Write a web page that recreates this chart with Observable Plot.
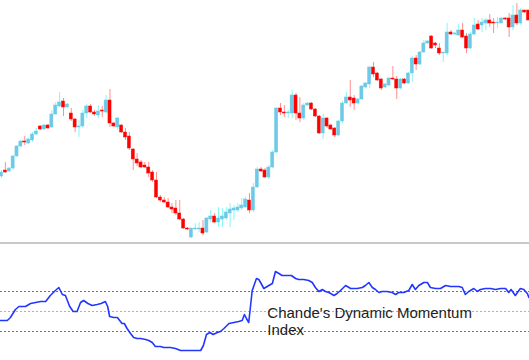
<!DOCTYPE html>
<html><head><meta charset="utf-8">
<script src="https://cdn.jsdelivr.net/npm/d3@7"></script>
<script src="https://cdn.jsdelivr.net/npm/@observablehq/plot@0.6"></script>
<style>
html,body{margin:0;padding:0;background:#fff;}
#chart{width:529px;height:360px;overflow:hidden;background:#fff;}
#sep{height:2px;background:#c8c8c8;}
#chart svg{display:block;}
</style></head><body><div id="chart"></div>
<script>
// Candle levels (chart units, larger = lower on screen)
const openLv = [176,170,171,168,156,146,141,143,140,134, 126,129,125,127,114,106,101,107,113,119, 127,126,113,106,112,115,110,112,100,123, 127,125,132,136,149,159,162,165,167,172, 180,197,200,202,207,208,213,219,228,237, 229,229,228,232,219,216,222,219,218,213, 210,210,208,207,200,210,187,169,170,177, 167,152,108,112,113,113,95,113,118,105, 103,109,116,133,118,125,128,135,121,103, 97,98,103,99,87,84,67,73,79,87, 85,78,79,88,79,83,73,58,64,52, 43,36,43,48,53,53,32,34,35,30, 36,48,34,24,25,23,20,22,23,23, 18,18,27,15,23,10,10];
const closeLv = [172,172,168,156,146,141,142,139,134,131, 129,125,128,114,105,102,107,104,119,127, 126,113,106,112,114,111,111,100,123,126, 118,132,137,148,159,163,167,167,173,180, 197,200,202,207,209,213,219,228,229,228, 228,228,233,218,216,222,218,216,212,209, 208,207,205,199,210,187,169,171,177,167, 152,108,112,113,112,95,113,118,105,103, 109,116,133,118,126,129,135,121,103,97, 100,103,99,86,83,67,74,80,88,84, 78,79,88,79,83,73,58,64,52,43, 41,48,45,53,52,32,34,33,30,37, 48,34,25,29,22,20,23,23,22,18, 19,27,15,23,10,12,20];
const highLv = [170,162,167,155,145,140,136,138,132,128, 125,124,124,110,102,92,98,103,108,118, 120,110,104,104,110,105,106,95,89,122, 117,124,128,132,148,153,160,162,162,170, 172,195,197,198,203,200,200,218,227,228, 223,222,220,217,210,213,207,208,207,203, 205,203,198,197,193,183,167,167,168,165, 150,107,103,105,110,90,93,97,103,102, 102,108,115,114,117,124,127,120,101,92, 80,95,98,85,82,66,62,72,78,83, 77,66,76,78,78,72,56,55,51,40, 40,35,42,43,52,23,30,32,24,23, 33,32,18,20,18,18,14,18,17,17, 17,13,5,3,8,10,10];
const lowLv = [178,173,172,170,157,147,145,144,142,135, 130,130,129,128,115,107,116,108,121,132, 137,128,118,113,116,118,117,113,127,127, 130,133,140,150,170,166,168,168,177,182, 198,202,203,208,213,215,220,229,230,238, 230,232,235,233,222,223,227,227,220,227, 220,212,210,208,213,212,188,172,178,179, 168,153,115,117,118,118,120,122,120,106, 110,117,134,139,128,130,137,136,123,104, 107,110,104,100,88,88,77,81,90,88, 86,80,99,89,84,84,82,70,65,53, 44,49,48,55,62,55,35,35,36,38, 53,49,35,30,32,30,27,33,28,23, 20,37,30,25,25,13,20];

// Chande's Dynamic Momentum Index (bar position, value)
const dmiBar = [-0.3,1.5,2.3,3.6,4.5,6.2,7.5,8.8,10.1,11.4, 12.6,13.9,14.8,15.7,16.5,17.6,18.5,19.5,20.4,21.2, 22.3,23.4,24.7,25.7,26.8,27.4,27.9,29.0,29.9,30.5, 31.1,31.7,32.4,33.3,34.1,35.0,35.9,37.2,38.0,38.9, 39.7,41.0,41.9,42.8,43.6,44.9,46.2,47.5,48.8,50.1, 51.4,52.1,52.9,53.8,54.6,55.7,56.5,57.4,58.7,60.0, 61.2,62.1,62.7,63.2,63.8,64.7,65.8,66.4,67.0,67.7, 69.0,69.9,70.7,71.6,72.4,73.7,74.8,75.9,76.7,78.0, 79.3,80.2,81.0,81.9,82.8,83.6,84.5,85.8,86.6,87.5, 88.8,90.1,91.8,93.1,93.9,94.8,95.7,96.5,97.4,98.2, 99.5,100.8,101.7,102.5,103.8,105.1,106.0,106.8,107.7,109.0, 109.9,110.7,112.0,113.3,114.6,115.9,117.2,118.0,118.9,119.7, 120.6,121.9,122.8,123.6,124.9,126.2,127.5,128.8,130.1,130.9, 131.5,132.6,133.9,134.8,135.7,136.1];
const dmiValue = [41,41,44,52,55,55,58,59,60,60, 66,71,74,67,66,55,50,50,59,61, 58,56,57,58,60,55,45,44,44,41, 38,38,33,28,24,23,23,22,21,19, 15,15,14,14,14,13,11,11,11,11, 11,16,27,29,27,29,30,33,38,39, 40,41,47,43,39,71,83,82,78,73, 76,78,90,88,86,86,86,83,82,82, 81,79,74,70,72,70,69,66,68,71, 76,73,73,74,76,79,74,72,69,70, 70,69,67,69,69,71,77,72,76,79, 79,74,73,73,76,75,75,75,74,67, 70,73,70,72,73,73,72,73,73,69, 72,66,73,72,68,64];

const levels = [30, 70];
const midLevel = [50];
const label = "Chande's Dynamic Momentum\nIndex";

const bars = openLv.map((o, i) => ({i, o, c: closeLv[i], h: highLv[i], l: lowLv[i], up: closeLv[i] < o}));
const dmi = dmiBar.map((b, k) => ({b, v: dmiValue[k]}));

const xDomain = [-0.258, 136.258];

const pricePlot = Plot.plot({
  width: 529, height: 242, margin: 0,
  x: {domain: xDomain, axis: null},
  y: {domain: [242, 0], axis: null},
  marks: [
    Plot.ruleX(bars, {x: "i", y1: "h", y2: "l", stroke: d => d.up ? "#86f6f6" : "#ff8f8f", strokeWidth: 1}),
    Plot.rect(bars, {x1: d => d.i - 0.4, x2: d => d.i + 0.4, y1: "o", y2: "c",
      fill: d => d.up ? "#72c6ea" : "#ff0000",
      stroke: d => d.up ? "#66d2e0" : "#ff1010", strokeWidth: 0.5})
  ]
});

const dmiPlot = Plot.plot({
  width: 529, height: 116, margin: 0,
  style: {fontFamily: "'Liberation Sans', Arial, sans-serif"},
  x: {domain: xDomain, axis: null},
  y: {domain: [1, 117], axis: null},
  marks: [
    Plot.ruleY(levels, {stroke: "#ff3c3c", strokeWidth: 1, strokeDasharray: "2,2"}),
    Plot.ruleY(midLevel, {stroke: "#b0b0b0", strokeWidth: 1, strokeDasharray: "2,2"}),
    Plot.line(dmi, {x: "b", y: "v", stroke: "#2236ff", strokeWidth: 1.6}),
    Plot.text([label], {x: 68.6, y: 55.5, text: d => d, textAnchor: "start", lineAnchor: "top",
      fontSize: 15, lineHeight: 1.15, fill: "#222"})
  ]
});

const chartEl = document.getElementById("chart");
chartEl.append(pricePlot);
const sepEl = document.createElement("div");
sepEl.id = "sep";
chartEl.append(sepEl);
chartEl.append(dmiPlot);
</script>
</body></html>
